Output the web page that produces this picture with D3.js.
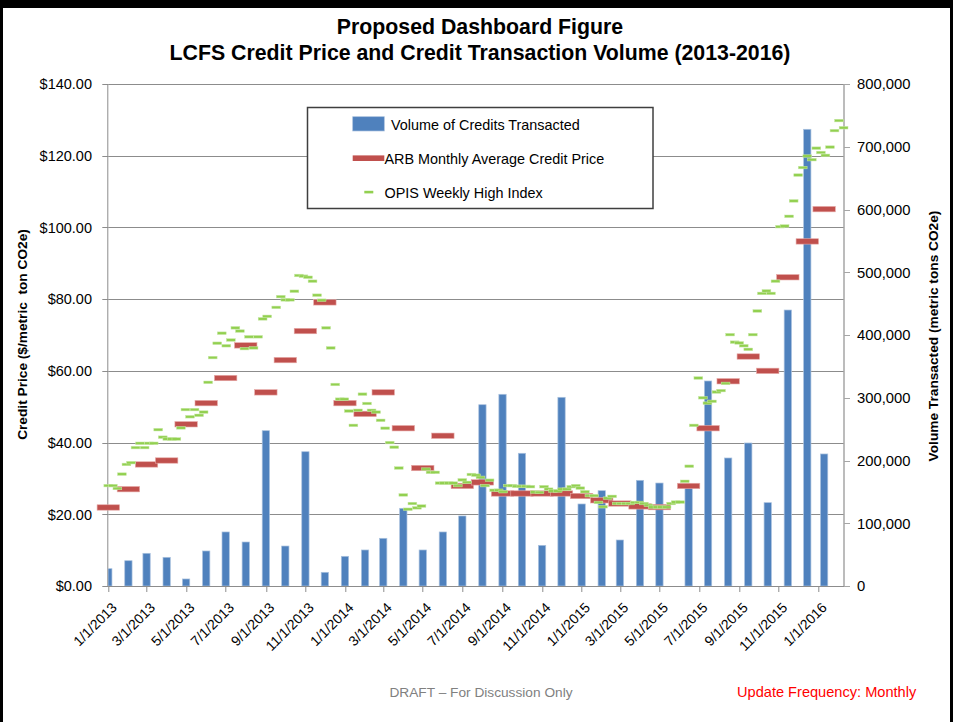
<!DOCTYPE html>
<html>
<meta charset="utf-8">
<head>
  <title>LCFS Credit Price and Credit Transaction Volume</title>
  <script src="https://d3js.org/d3.v7.min.js"></script>
  <style>
    body { margin: 0; background: #fff; }
    svg { display: block; font-family: "Liberation Sans", Arial, sans-serif; }
  </style>
</head>
<body>
<div id="my_dataviz"></div>

<script>

// monthly points (transaction volume and ARB monthly average price)
var months = [
  "2013-01-01","2013-02-01","2013-03-01","2013-04-01","2013-05-01","2013-06-01",
  "2013-07-01","2013-08-01","2013-09-01","2013-10-01","2013-11-01","2013-12-01",
  "2014-01-01","2014-02-01","2014-03-01","2014-04-01","2014-05-01","2014-06-01",
  "2014-07-01","2014-08-01","2014-09-01","2014-10-01","2014-11-01","2014-12-01",
  "2015-01-01","2015-02-01","2015-03-01","2015-04-01","2015-05-01","2015-06-15",
  "2015-07-15","2015-08-15","2015-09-15","2015-10-15","2015-11-15","2015-12-15",
  "2016-01-10"];

var volume = [
  27600, 40300, 52100, 45700, 11200, 55800, 86100, 70100, 247500, 63700, 214000, 21800,
  47300, 57400, 76000, 123800, 57400, 86100, 111600, 288900, 305500, 211500, 64800, 300700,
  130700, 151900, 73300, 168400, 164100, 158300, 326700, 204000, 227900, 132800, 439800, 727800,
  210400];

var arbPrice = [
  21.9, 27.0, 33.9, 35.0, 45.1, 51.0, 58.0, 67.1, 54.0, 63.0, 71.1, 79.1,
  51.0, 48.0, 54.0, 44.0, 32.9, 41.9, 27.9, 28.9, 25.8, 25.8, 25.8, 25.8,
  25.1, 23.9, 23.0, 22.2, 22.0, 27.9, 44.0, 57.1, 64.0, 60.0, 86.1, 96.1,
  105.1];

// OPIS weekly high index, one value per week from opisStart (null = no quote)
var opisStart = "2013-01-01";
var opisHigh = [
  28.0, 28.0, 27.2, 31.2, 33.9, 34.4, 38.6, 39.8, 38.6, 39.8,
  39.8, 43.6, 41.5, 41.0, 41.0, 41.0, 44.1, 49.2, 47.2, 49.2,
  47.6, 48.5, 56.8, 63.7, 67.7, 70.5, 67.0, 68.6, 72.0, 71.1,
  66.2, 69.5, 66.4, 69.5, 74.5, 75.2, null, 77.7, 80.7, 79.8,
  79.8, 82.2, 86.6, 86.4, 86.1, 85.0, 81.1, 79.7, 72.0, 66.4,
  56.2, 52.1, 52.1, 48.8, 44.8, 49.0, 53.5, 50.9, 49.0, 48.5,
  46.2, 44.0, 40.0, 38.7, 32.9, 25.4, 21.4, 23.0, 21.8, 22.3,
  32.6, 31.7, 31.7, 28.7, 28.7, 28.7, 28.7, 28.0, 29.6, 28.9,
  31.1, 30.9, 30.3, 28.0, 29.5, 26.7, 26.7, 26.3, 28.0, 28.0,
  27.8, 27.8, 27.8, 27.7, 26.2, 26.1, 27.7, 27.0, 26.5, 26.5,
  27.0, 27.0, 27.7, 28.0, 27.3, 26.3, 25.2, 25.2, 23.3, 22.1,
  24.5, 25.0, 23.0, 23.0, 23.0, 23.0, 23.3, 23.3, 23.0, 22.5,
  22.0, 22.0, 22.0, 22.0, 23.0, 23.4, 23.4, 29.2, 33.4, 44.8,
  58.0, 52.5, 51.0, 51.5, 54.1, 54.5, 56.5, 70.1, 68.0, 67.8,
  67.0, 66.0, 70.1, 76.7, 81.6, 82.3, 81.6, 85.0, 100.2, 100.4,
  103.1, 107.4, 114.6, 116.7, 119.9, 118.9, 122.1, 120.9, 120.1, 122.4,
  127.0, 129.8, 127.8];

var priceTicks = [0, 20, 40, 60, 80, 100, 120, 140];
var volumeTicks = [0, 100000, 200000, 300000, 400000, 500000, 600000, 700000, 800000];

var legendItems = ["Volume of Credits Transacted", "ARB Monthly Average Credit Price", "OPIS Weekly High Index"];

// set the dimensions and margins of the graph
var W = 960, H = 722;
var margin = {top: 84, right: 116, bottom: 136, left: 108.3},
    width = W - margin.left - margin.right,
    height = H - margin.top - margin.bottom;

var parse = d3.timeParse("%Y-%m-%d");

var monthly = months.map(function(m, i) {
  return {date: parse(m), volume: volume[i], price: arbPrice[i]};
});
var weekly = [];
opisHigh.forEach(function(v, i) {
  if (v !== null) weekly.push({date: d3.timeDay.offset(parse(opisStart), 7 * i), price: v});
});

var svg = d3.select("#my_dataviz").append("svg")
    .attr("width", W)
    .attr("height", H);

// outer frame (left, top, right bands)
svg.append("rect").attr("x", 0).attr("y", 0).attr("width", 3).attr("height", H).attr("fill", "#000");
svg.append("rect").attr("x", 0).attr("y", 0).attr("width", 953).attr("height", 8).attr("fill", "#000");
svg.append("rect").attr("x", 950).attr("y", 0).attr("width", 3).attr("height", H).attr("fill", "#000");

var g = svg.append("g")
    .attr("transform", "translate(" + margin.left + "," + margin.top + ")");

var x = d3.scaleTime()
    .domain([new Date(2013, 0, 1), new Date(2016, 0, 1)])
    .range([0, 710]);
var yL = d3.scaleLinear().domain([0, 140]).range([height, 0]);
var yR = d3.scaleLinear().domain([0, 800000]).range([height, 0]);

g.append("clipPath").attr("id", "plotclip")
  .append("rect").attr("width", width).attr("height", height);

// gridlines
g.append("g").selectAll("line")
  .data(priceTicks.slice(1))
  .enter().append("line")
    .attr("x1", 0).attr("x2", width)
    .attr("y1", function(d) { return Math.round(yL(d)) + 0.5; })
    .attr("y2", function(d) { return Math.round(yL(d)) + 0.5; })
    .attr("stroke", "#8c8c8c");

// left axis
var leftAxis = g.append("g");
leftAxis.append("line")
    .attr("x1", -0.5).attr("x2", -0.5).attr("y1", 0).attr("y2", height)
    .attr("stroke", "#8c8c8c");
leftAxis.selectAll(".tk")
  .data(priceTicks)
  .enter().append("line")
    .attr("x1", -6).attr("x2", 0)
    .attr("y1", function(d) { return Math.round(yL(d)) + 0.5; })
    .attr("y2", function(d) { return Math.round(yL(d)) + 0.5; })
    .attr("stroke", "#8c8c8c");
leftAxis.selectAll("text")
  .data(priceTicks)
  .enter().append("text")
    .attr("x", 92 - margin.left)
    .attr("y", function(d) { return yL(d); })
    .attr("dy", "0.36em")
    .attr("text-anchor", "end")
    .style("font-size", "14.5px")
    .text(d3.format("$.2f"));

// right axis
var rightAxis = g.append("g").attr("transform", "translate(" + width + ",0)");
rightAxis.append("line")
    .attr("x1", 0).attr("x2", 0).attr("y1", 0).attr("y2", height)
    .attr("stroke", "#a6a6a6").attr("stroke-width", 1.5);
rightAxis.selectAll(".tk")
  .data(volumeTicks)
  .enter().append("line")
    .attr("x1", 0).attr("x2", 6)
    .attr("y1", function(d) { return Math.round(yR(d)) + 0.5; })
    .attr("y2", function(d) { return Math.round(yR(d)) + 0.5; })
    .attr("stroke", "#a6a6a6");
rightAxis.selectAll("text")
  .data(volumeTicks)
  .enter().append("text")
    .attr("x", 857 - margin.left - width)
    .attr("y", function(d) { return yR(d); })
    .attr("dy", "0.36em")
    .style("font-size", "14.8px")
    .text(d3.format(","));

// bottom axis
var dateTicks = d3.timeMonth.every(2).range(new Date(2013, 0, 1), new Date(2016, 0, 2));
var bottomAxis = g.append("g").attr("transform", "translate(0," + height + ")");
bottomAxis.append("line")
    .attr("x1", 0).attr("x2", width).attr("y1", 0.5).attr("y2", 0.5)
    .attr("stroke", "#8c8c8c");
bottomAxis.selectAll(".tk")
  .data(dateTicks)
  .enter().append("line")
    .attr("x1", function(d) { return Math.round(x(d)) + 0.5; })
    .attr("x2", function(d) { return Math.round(x(d)) + 0.5; })
    .attr("y1", 0).attr("y2", 6)
    .attr("stroke", "#8c8c8c");
bottomAxis.selectAll("text")
  .data(dateTicks)
  .enter().append("text")
    .attr("transform", function(d) { return "translate(" + (x(d) + 6) + ",19) rotate(-45)"; })
    .attr("dy", "0.35em")
    .attr("text-anchor", "end")
    .style("font-size", "14px")
    .text(d3.timeFormat("%-m/%-d/%Y"));

// bars
g.append("g").attr("clip-path", "url(#plotclip)")
  .selectAll("rect")
  .data(monthly)
  .enter().append("rect")
    .attr("x", function(d) { return x(d.date) - 3.65; })
    .attr("width", 7.3)
    .attr("y", function(d) { return yR(d.volume); })
    .attr("height", function(d) { return height - yR(d.volume); })
    .attr("fill", "#4f81bd")
    .attr("stroke", "#a9c1de")
    .attr("stroke-width", 0.7);

// ARB monthly average markers
g.append("g").selectAll("rect")
  .data(monthly)
  .enter().append("rect")
    .attr("x", function(d) { return x(d.date) - 11.2; })
    .attr("y", function(d) { return yL(d.price) - 2.7; })
    .attr("width", 22.4)
    .attr("height", 5.4)
    .attr("fill", "#c0504d")
    .attr("stroke", "#e6a9a7")
    .attr("stroke-width", 0.6);

// OPIS weekly markers
g.append("g").selectAll("rect")
  .data(weekly)
  .enter().append("rect")
    .attr("x", function(d) { return x(d.date) - 4.4; })
    .attr("y", function(d) { return yL(d.price) - 1.3; })
    .attr("width", 8.8)
    .attr("height", 2.6)
    .attr("fill", "#92d050")
    .attr("stroke", "#c7e7a6")
    .attr("stroke-width", 0.5);

// legend
var legend = svg.append("g");
legend.append("rect")
    .attr("x", 307.5).attr("y", 107.5)
    .attr("width", 345.5).attr("height", 101)
    .attr("fill", "#fff")
    .attr("stroke", "#3f3f3f")
    .attr("stroke-width", 1.5);
legend.append("rect")
    .attr("x", 352.7).attr("y", 116.7).attr("width", 31.6).attr("height", 14.3)
    .attr("fill", "#4f81bd").attr("stroke", "#a9c1de").attr("stroke-width", 0.7);
legend.append("rect")
    .attr("x", 352.7).attr("y", 155.4).attr("width", 31.6).attr("height", 5.6)
    .attr("fill", "#c0504d");
legend.append("rect")
    .attr("x", 364.3).attr("y", 190.8).attr("width", 9).attr("height", 2.6)
    .attr("fill", "#92d050");
legend.selectAll("text")
  .data(legendItems)
  .enter().append("text")
    .attr("x", function(d, i) { return i === 0 ? 391 : 384.5; })
    .attr("y", function(d, i) { return 129.5 + i * 34; })
    .style("font-size", "14.4px")
    .text(function(d) { return d; });

// titles
svg.append("text")
    .attr("x", 480).attr("y", 34)
    .attr("text-anchor", "middle")
    .style("font-weight", "bold").style("font-size", "21.3px")
    .text("Proposed Dashboard Figure");
svg.append("text")
    .attr("x", 480).attr("y", 59.5)
    .attr("text-anchor", "middle")
    .style("font-weight", "bold").style("font-size", "21.3px")
    .text("LCFS Credit Price and Credit Transaction Volume (2013-2016)");

svg.append("text")
    .attr("transform", "translate(27,334.5) rotate(-90)")
    .attr("text-anchor", "middle")
    .style("font-weight", "bold").style("font-size", "13.7px")
    .style("white-space", "pre")
    .text("Credit Price ($/metric  ton CO2e)");
svg.append("text")
    .attr("transform", "translate(938,336) rotate(-90)")
    .attr("text-anchor", "middle")
    .style("font-weight", "bold").style("font-size", "13.7px")
    .text("Volume Transacted (metric tons CO2e)");

// footer notes
svg.append("text")
    .attr("x", 481).attr("y", 697)
    .attr("text-anchor", "middle")
    .attr("fill", "#808080")
    .style("font-size", "13.7px")
    .text("DRAFT \u2013 For Discussion Only");
svg.append("text")
    .attr("x", 737).attr("y", 697)
    .attr("fill", "#ff0000")
    .style("font-size", "14.6px")
    .text("Update Frequency: Monthly");

</script>
</body>
</html>
